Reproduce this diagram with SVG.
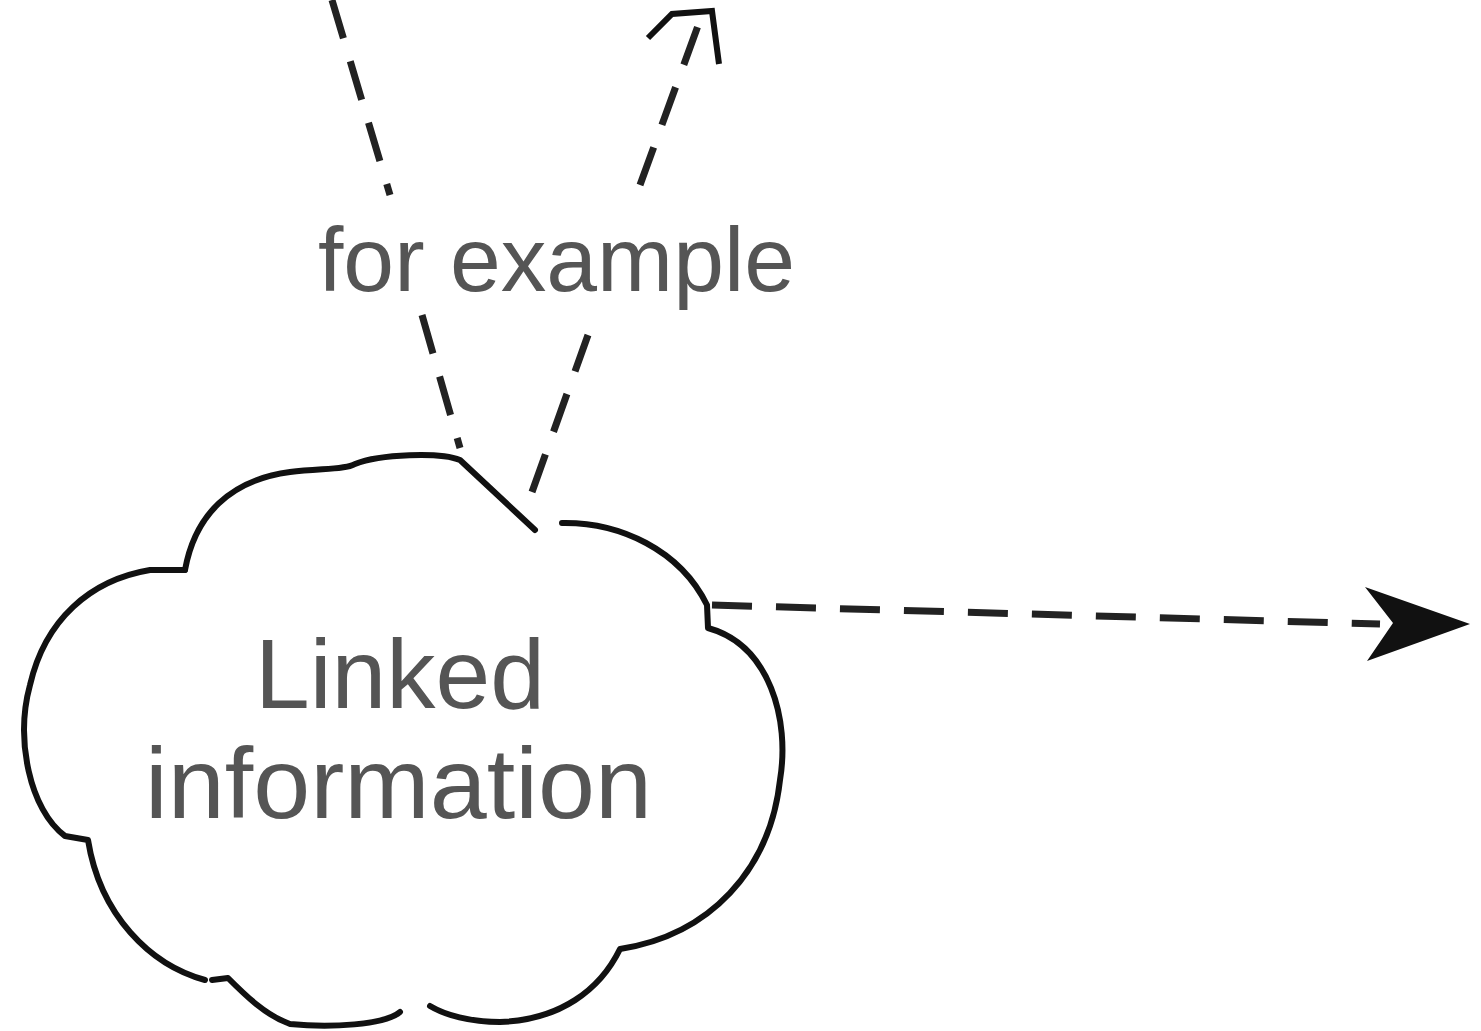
<svg xmlns="http://www.w3.org/2000/svg" width="1481" height="1031" viewBox="0 0 1481 1031">
<style>
.cloud{fill:none;stroke:#111;stroke-width:6;stroke-linejoin:round;stroke-linecap:round}
.dash{fill:none;stroke:#222;stroke-width:7;stroke-dasharray:40 24}
.head{fill:none;stroke:#111;stroke-width:6;stroke-linejoin:miter}
.lbl{font-family:"Liberation Sans",Arial,sans-serif;fill:#555}
</style>
<rect width="1481" height="1031" fill="#fff"/>
<g id="connectors">
<path class="dash" d="M332,0 L390,195"/>
<path class="dash" d="M422,315 L460,448"/>
<path class="dash" d="M640,185 L703,12"/>
<path class="dash" d="M532,492 L588,335"/>
<path class="head" d="M648,38 L672,14 L712,11 L719,64"/>
<path class="dash" d="M712,605 L1380,624"/>
<path d="M1470,624 L1365,587 L1393,623 L1367,661 Z" fill="#111"/>
<text class="lbl" x="318" y="291" font-size="90" textLength="477" lengthAdjust="spacingAndGlyphs">for example</text>
</g>
<g id="linked-information">
<path class="cloud" d="M185,570 C195,515 230,480 290,472 C320,468 345,470 355,464 C380,454 440,452 460,460 L535,530"/>
<path class="cloud" d="M562,523 C620,522 680,550 707,605 L708,628 C770,645 790,720 780,780 C770,870 710,935 620,949 C600,990 560,1020 500,1022 C470,1022 445,1015 430,1006"/>
<path class="cloud" d="M400,1012 C385,1025 330,1028 290,1024 C265,1015 245,995 228,978 L212,980"/>
<path class="cloud" d="M205,980 C150,965 100,915 88,840 L65,836 C30,810 15,740 30,685 C45,620 90,580 150,570 L185,570"/>
<text class="lbl" x="255" y="708" font-size="98" textLength="290" lengthAdjust="spacingAndGlyphs">Linked</text>
<text class="lbl" x="145" y="818" font-size="100" textLength="507" lengthAdjust="spacingAndGlyphs">information</text>
</g>
</svg>
